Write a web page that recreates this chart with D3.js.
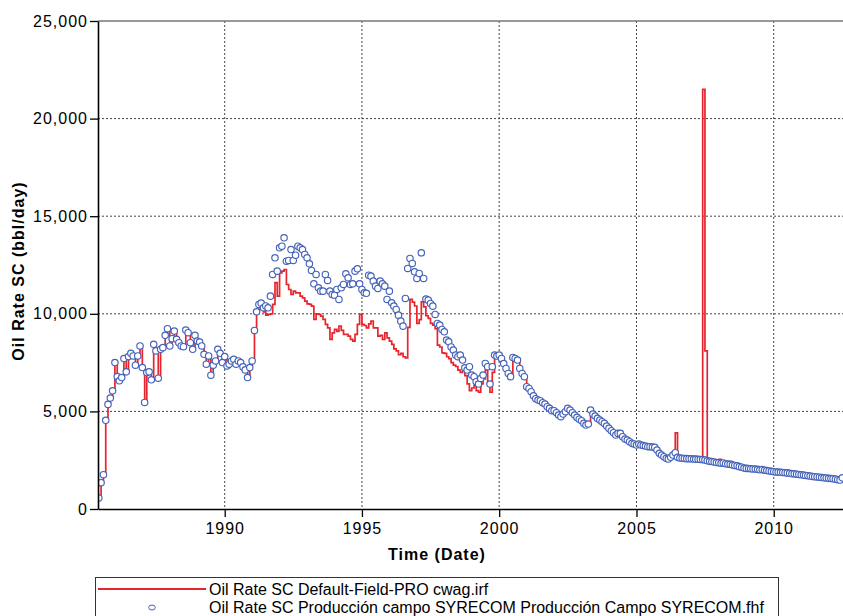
<!DOCTYPE html>
<html>
<head>
<meta charset="utf-8">
<script src="https://cdn.jsdelivr.net/npm/d3@7"></script>
<style>
  body { margin: 0; background: #fff; }
  svg text { font-family: "Liberation Sans", Arial, sans-serif; fill: #000; }
</style>
</head>
<body>
<svg id="chart" width="843" height="616"></svg>
<script>
// Monthly oil rate (bbl/day), first value is June 1985
const firstMonth = [1985, 5];

// Field history (observed production), one row per year
const obsRate = [
  565, 1347, 1755, 4543, 5359, 5682, 6056,
  7501, 6787, 6566, 6736, 7705, 7025, 7807, 7977, 7841, 7365, 7841, 8351,
  7246, 5461, 6991, 7025, 6617, 8436, 8096, 6702, 8181, 8266, 8895, 9235,
  8351, 8725, 9116, 8691, 8521, 8351, 8317, 9167, 9031, 8521, 8181, 8895,
  8606, 8555, 8351, 7926, 7416, 7841, 6855, 7365, 7586, 8181, 7977, 7501,
  7807, 7331, 7416, 7586, 7671, 7416, 7586, 7501, 7280, 7127, 6736, 7246,
  7586, 9146, 10102, 10478, 10546, 10307, 10400, 10307, 10905, 12014, 12868, 12185,
  13380, 13465, 13892, 12697, 12731, 13294, 12731, 13004, 13465, 13380, 13294, 13038,
  12868, 12560, 12219, 11536, 12014, 11331, 11161, 11161, 12014, 11707, 11161, 10990,
  10956, 11246, 10734, 11331, 11502, 12048, 11843, 11502, 11536, 12185, 12304, 11536,
  11246, 11075, 11050, 11980, 11929, 11673, 11417, 11297, 11673, 11536, 11417, 10734,
  11161, 10563, 10393, 10222, 9932, 9624, 9368, 10788, 12323, 12835, 12579, 12152,
  11810, 12067, 13124, 11810, 10752, 10700, 10530, 10393, 9967, 9506, 9421, 9199,
  9080, 8653, 8568, 8300, 8141, 7885, 7800, 7885, 7629, 7236, 7117, 7288,
  6861, 6776, 6520, 6400, 6690, 6861, 7458, 7288, 6400, 7288, 7885, 7834,
  7885, 7714, 7450, 7202, 6946, 6776, 7765, 7714, 7629, 7202, 6946, 6776,
  6264, 6178, 6008, 5800, 5650, 5581, 5547, 5444, 5376, 5239, 5154, 5034,
  5034, 4932, 4813, 4727, 4864, 4983, 5154, 5069, 4932, 4813, 4693, 4600,
  4523, 4386, 4301, 4352, 5069, 4864, 4761, 4642, 4557, 4471, 4386, 4249,
  4130, 4010, 3908, 3789, 3874, 3874, 3703, 3584, 3533, 3447, 3362, 3330,
  3277, 3328, 3277, 3250, 3226, 3192, 3192, 3170, 3157, 3021, 2850, 2765,
  2679, 2594, 2560, 2650, 2765, 2884, 2645, 2610, 2600, 2590, 2580, 2575,
  2570, 2560, 2555, 2545, 2540, 2530, 2510, 2470, 2440, 2430, 2410, 2380,
  2370, 2350, 2360, 2320, 2300, 2290, 2250, 2230, 2210, 2170, 2140, 2100,
  2080, 2075, 2060, 2050, 2045, 2030, 2010, 2020, 1990, 1970, 1950, 1930,
  1910, 1900, 1895, 1880, 1870, 1860, 1850, 1830, 1810, 1800, 1785, 1770,
  1750, 1740, 1720, 1705, 1690, 1670, 1655, 1640, 1630, 1610, 1600, 1590,
  1570, 1560, 1550, 1530, 1500, 1485, 1600
];

// Simulation run (cwag), same months
const simRate = [
  565, 1347, 1755, 4543, 5359, 5682, 6056,
  7501, 6787, 6566, 6736, 7705, 7025, 7807, 7977, 7841, 7365, 7841, 8351,
  7246, 5461, 6991, 7025, 6617, 8436, 8096, 6702, 8181, 8266, 8895, 9235,
  8351, 8725, 9116, 8691, 8521, 8351, 8317, 9167, 9031, 8521, 8181, 8895,
  8606, 8555, 8351, 7926, 7416, 7841, 6855, 7365, 7586, 8181, 7977, 7501,
  7807, 7331, 7416, 7586, 7671, 7416, 7586, 7501, 7280, 7127, 6736, 7246,
  7586, 9146, 10102, 10222, 10307, 10102, 9932, 9966, 10000, 10478, 11600, 10905,
  12100, 12185, 12270, 11502, 11246, 10990, 11161, 11075, 11075, 10905, 10819, 10649,
  10512, 10478, 10393, 9710, 10000, 9966, 9880, 9710, 9454, 9283, 8686, 9027,
  9198, 9100, 9368, 9150, 8942, 8950, 8857, 8686, 8600, 8942, 9454, 9966,
  9454, 9400, 9283, 9488, 9624, 9283, 9283, 8857, 8900, 8686, 9027, 8771,
  8600, 8430, 8200, 8100, 7902, 7970, 7800, 7747, 9300, 10734, 10600, 10400,
  9506, 9700, 10615, 10359, 9900, 9762, 9506, 9421, 9233, 8397, 8300, 8000,
  7970, 7800, 7700, 7500, 7373, 7300, 7117, 7004, 7202, 6832, 6406, 6065,
  6200, 6320, 6065, 5980, 6406, 6662, 7117, 6400, 5980, 7004, 7715, 7834,
  7885, 7714, 7450, 7202, 6946, 6776, 7765, 7714, 7629, 7202, 6946, 6776,
  6264, 6178, 6008, 5800, 5650, 5581, 5547, 5444, 5376, 5239, 5154, 5034,
  5034, 4932, 4813, 4727, 4864, 4983, 5154, 5069, 4932, 4813, 4693, 4600,
  4523, 4386, 4301, 4352, 5069, 4864, 4761, 4642, 4557, 4471, 4386, 4249,
  4130, 4010, 3908, 3789, 3874, 3874, 3703, 3584, 3533, 3447, 3362, 3330,
  3277, 3328, 3277, 3250, 3226, 3192, 3192, 3170, 3157, 3021, 2850, 2765,
  2679, 2594, 2560, 2650, 2765, 3900, 2645, 2610, 2600, 2590, 2580, 2575,
  2570, 2560, 2555, 2545, 2540, 21500, 8100, 2470, 2440, 2430, 2410, 2380,
  2545, 2350, 2360, 2320, 2300, 2423, 2250, 2230, 2210, 2170, 2140, 2100,
  2080, 2167, 2060, 2050, 2045, 2030, 2010, 2020, 1990, 1970, 1950, 1930,
  1910, 1900, 1895, 1880, 1870, 1860, 1850, 1830, 1810, 1800, 1785, 1770,
  1750, 1740, 1720, 1705, 1690, 1670, 1655, 1640, 1630, 1610, 1600, 1590,
  1570, 1560, 1550, 1530, 1500, 1485, 1600
];

const yTicks = [0, 5000, 10000, 15000, 20000, 25000];
const xTickYears = [1990, 1995, 2000, 2005, 2010];
const seriesNames = [
  "Oil Rate SC Default-Field-PRO cwag.irf",
  "Oil Rate SC Producción campo SYRECOM Producción Campo SYRECOM.fhf"
];
const xTitle = "Time (Date)";
const yTitle = "Oil Rate SC (bbl/day)";

const plot = { left: 98, right: 843, top: 21, bottom: 509 };
const red = "#e8242c", blue = "#4462b8";

const svg = d3.select("#chart");

const start = new Date(Date.UTC(firstMonth[0], firstMonth[1], 1));
const months = obsRate.map((_, i) => d3.utcMonth.offset(start, i));

const x = d3.scaleUtc()
  .domain([new Date(Date.UTC(1985, 4, 21)), new Date(Date.UTC(2012, 6, 11))])
  .range([plot.left, plot.right]);
const y = d3.scaleLinear().domain([0, 25000]).range([plot.bottom, plot.top]);

// dotted grid
const grid = svg.append("g");
grid.selectAll("line.h").data(yTicks.filter(v => v > 0 && v < 25000)).join("line")
  .attr("x1", plot.left).attr("x2", plot.right)
  .attr("y1", d => y(d)).attr("y2", d => y(d))
  .attr("stroke", "#444").attr("stroke-width", 1).attr("stroke-dasharray", "2,2");
grid.selectAll("line.v").data(xTickYears).join("line")
  .attr("x1", d => x(new Date(Date.UTC(d, 0, 1)))).attr("x2", d => x(new Date(Date.UTC(d, 0, 1))))
  .attr("y1", plot.top).attr("y2", plot.bottom)
  .attr("stroke", "#444").attr("stroke-width", 1).attr("stroke-dasharray", "2,2");
// top frame
grid.append("line")
  .attr("x1", plot.left).attr("x2", plot.right)
  .attr("y1", y(25000)).attr("y2", y(25000))
  .attr("stroke", "#777").attr("stroke-width", 1.5);

// clip to the plotting area
svg.append("defs").append("clipPath").attr("id", "plotClip")
  .append("rect").attr("x", plot.left).attr("y", plot.top)
  .attr("width", plot.right - plot.left).attr("height", plot.bottom - plot.top);

const marks = svg.append("g").attr("clip-path", "url(#plotClip)");

const simLine = d3.line()
  .x((d, i) => x(months[i]))
  .y(d => y(d))
  .curve(d3.curveStepAfter);

marks.append("path")
  .datum(simRate)
  .attr("d", simLine)
  .attr("fill", "none")
  .attr("stroke", red)
  .attr("stroke-width", 1.7);

marks.selectAll("circle").data(obsRate).join("circle")
  .attr("cx", (d, i) => x(months[i]))
  .attr("cy", d => y(d))
  .attr("r", 3.2)
  .attr("fill", "#fff")
  .attr("stroke", blue)
  .attr("stroke-width", 1.15);

// axes
const yAxis = svg.append("g")
  .attr("transform", `translate(${plot.left},0)`)
  .call(d3.axisLeft(y).tickValues(yTicks).tickFormat(d3.format(",")).tickSize(8).tickSizeOuter(0));
const xAxis = svg.append("g")
  .attr("transform", `translate(0,${plot.bottom})`)
  .call(d3.axisBottom(x)
    .tickValues(xTickYears.map(v => new Date(Date.UTC(v, 0, 1))))
    .tickFormat(d3.utcFormat("%Y")).tickSize(8).tickSizeOuter(0));

[yAxis, xAxis].forEach(g => {
  g.select(".domain").attr("stroke", "#000").attr("stroke-width", 1.6);
  g.selectAll(".tick line").attr("stroke", "#000").attr("stroke-width", 1.3);
  g.selectAll(".tick text")
    .attr("font-family", "'Liberation Sans', Arial, sans-serif")
    .attr("font-size", 16).attr("letter-spacing", "1px").attr("fill", "#111");
});
yAxis.selectAll(".tick text").attr("x", -10);
xAxis.selectAll(".tick text").attr("y", 14).attr("dy", "0.71em");

// axis titles
svg.append("text")
  .attr("x", 437).attr("y", 560)
  .attr("text-anchor", "middle")
  .attr("font-size", 16).attr("font-weight", "bold").attr("letter-spacing", "1px")
  .text(xTitle);
svg.append("text")
  .attr("transform", "translate(24,271) rotate(-90)")
  .attr("text-anchor", "middle")
  .attr("font-size", 16).attr("font-weight", "bold").attr("letter-spacing", "1px")
  .text(yTitle);

// legend
const legend = svg.append("g");
legend.append("rect")
  .attr("x", 95.5).attr("y", 577.5).attr("width", 683).attr("height", 60)
  .attr("fill", "#fff").attr("stroke", "#333").attr("stroke-width", 1);
legend.append("line")
  .attr("x1", 98).attr("x2", 206).attr("y1", 589).attr("y2", 589)
  .attr("stroke", red).attr("stroke-width", 2);
legend.append("ellipse")
  .attr("cx", 152).attr("cy", 607.5).attr("rx", 3.3).attr("ry", 2.5)
  .attr("fill", "#fff").attr("stroke", blue).attr("stroke-width", 1);
legend.selectAll("text.item").data(seriesNames).join("text")
  .attr("x", 209).attr("y", (d, i) => 594.5 + i * 18.5)
  .attr("font-size", 16)
  .text(d => d);
</script>
</body>
</html>
